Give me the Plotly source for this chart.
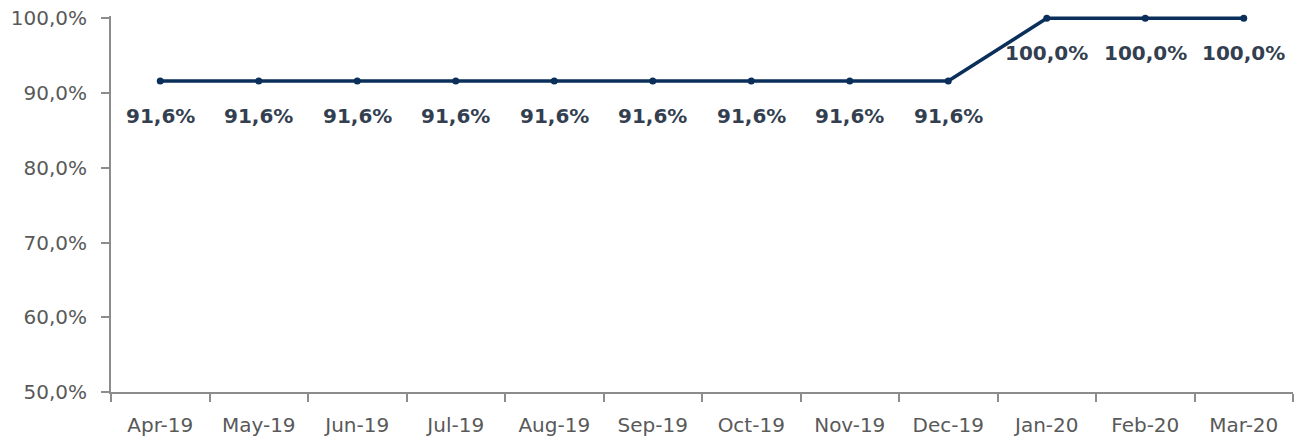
import plotly.graph_objects as go

months = ["Apr-19", "May-19", "Jun-19", "Jul-19", "Aug-19", "Sep-19",
          "Oct-19", "Nov-19", "Dec-19", "Jan-20", "Feb-20", "Mar-20"]
values = [91.6, 91.6, 91.6, 91.6, 91.6, 91.6, 91.6, 91.6, 91.6, 100.0, 100.0, 100.0]
y_ticks = [50, 60, 70, 80, 90, 100]
y_tick_text = [f"{t:.1f}%".replace(".", ",") for t in y_ticks]

line_color = "#0b2f5b"
axis_color = "#8c8c8c"
tick_font_color = "#595959"
label_color = "#333f50"

fig = go.Figure()
fig.add_trace(go.Scatter(
    x=months, y=values, mode="lines+markers",
    line=dict(color=line_color, width=3.5),
    marker=dict(color=line_color, size=7),
    cliponaxis=False, hoverinfo="skip", showlegend=False,
))

for m, v in zip(months, values):
    fig.add_annotation(
        x=m, y=v, text=f"{v:.1f}%".replace(".", ","), showarrow=False,
        yshift=-35, font=dict(family="DejaVu Sans", size=20, color=label_color, weight="bold"),
    )

# page body has an 8px margin, so the figure is sized to fill the remaining window
fig.update_layout(
    width=1295, height=432,
    margin=dict(l=103, r=10, t=8, b=48, autoexpand=False),
    paper_bgcolor="white", plot_bgcolor="white",
    font=dict(family="DejaVu Sans", size=20, color=tick_font_color),
)
fig.update_xaxes(
    type="category", range=[-0.5, 11.5], tickson="boundaries", automargin=False,
    showline=True, linecolor=axis_color, linewidth=2,
    ticks="outside", ticklen=8, tickcolor=axis_color, tickwidth=2,
    showgrid=False, zeroline=False, ticklabelstandoff=14, ticklabeloverflow="allow",
    tickfont=dict(size=20, color=tick_font_color),
)
fig.update_yaxes(
    range=[50, 100.3], tickvals=y_ticks, ticktext=y_tick_text, automargin=False,
    showline=True, linecolor=axis_color, linewidth=2,
    ticks="outside", ticklen=8, tickcolor=axis_color, tickwidth=2,
    showgrid=False, zeroline=False, ticklabelstandoff=10, ticklabeloverflow="allow",
    tickfont=dict(size=20, color=tick_font_color),
)

fig.write_html("out.html")
